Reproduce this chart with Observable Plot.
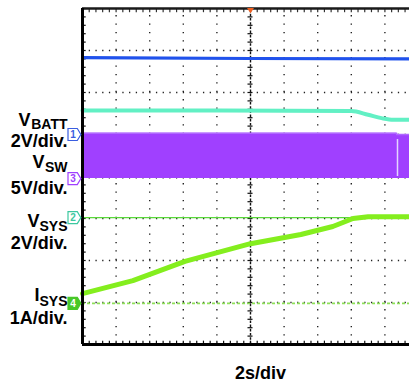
<!DOCTYPE html>
<html>
<head>
<meta charset="utf-8">
<script src="https://cdn.jsdelivr.net/npm/d3@7"></script>
<script src="https://cdn.jsdelivr.net/npm/@observablehq/plot@0.6"></script>
<style>
  html, body { margin: 0; padding: 0; background: #fff; overflow: hidden; }
  #chart svg { overflow: hidden; display: block; }
</style>
</head>
<body>
<div id="chart"></div>
<script>
// ---- Data (time in s, 2 s/div; levels in screen divisions, 0 = bottom, 8 = top) ----
const blueT = [0, 10, 20];
const blueV = [6.83, 6.81, 6.80];

const vbattT = [0, 8, 16.0, 17.0, 17.8, 18.5, 20];
const vbattV = [5.57, 5.57, 5.56, 5.47, 5.39, 5.35, 5.35];

const vswT  = [0, 18.7, 18.7, 20];
const vswLo = [3.95, 3.95, 3.95, 3.95];
const vswHi = [5.03, 5.03, 5.0, 5.0];
const vswGapT = [18.75];

const isysT = [0, 3.0, 6.1, 10.0, 13.0, 14.9, 16.1, 17.0, 20];
const isysV = [1.21, 1.52, 1.98, 2.40, 2.62, 2.81, 3.00, 3.04, 3.04];

const vsysRef = [3.02];
const isysRef = [0.98];

const markerIds    = ["1", "3", "2", "4"];
const markerLevels = [5.0, 3.95, 3.02, 0.98];
const labelMain  = ["V", "V", "V", "I"];
const labelSub   = ["BATT", "SW", "SYS", "SYS"];
const labelScale = ["2V/div.", "5V/div.", "2V/div.", "1A/div."];
const xLabel = "2s/div";
const triggerT = [10];

// ---- Layout / style ----
const markerColors = ["#3a5ee0", "#a040ff", "#3cc8a0", "#48c828"];
const markerFilled = [false, false, false, true];
const mainDx  = [-52, -38, -43, -43];
const mainDy  = [-9, -11, 9, -2];
const subDy   = [-6, -7, 13, 3];
const scaleDy = [12, 15, 31, 21];

const zip = (t, v) => t.map((d, i) => ({t: d, v: v[i]}));
const blue = zip(blueT, blueV);
const vbatt = zip(vbattT, vbattV);
const vsw = vswT.map((d, i) => ({t: d, lo: vswLo[i], hi: vswHi[i]}));
const isys = zip(isysT, isysV);
const markers = markerIds.map((id, i) => ({
  id, level: markerLevels[i], color: markerColors[i], filled: markerFilled[i],
  main: labelMain[i], sub: labelSub[i], scale: labelScale[i],
  mdx: mainDx[i], mdy: mainDy[i], sdy: subDy[i], cdy: scaleDy[i]
}));

const tag = {draw(ctx, size) {
  const r = Math.sqrt(size / Math.PI);
  ctx.moveTo(-r, -r); ctx.lineTo(r * 0.55, -r); ctx.lineTo(r * 1.15, 0);
  ctx.lineTo(r * 0.55, r); ctx.lineTo(-r, r); ctx.closePath();
}};
const downTri = {draw(ctx, size) {
  const r = Math.sqrt(size / Math.PI);
  ctx.moveTo(-r, -r * 0.7); ctx.lineTo(r, -r * 0.7); ctx.lineTo(0, r * 0.8); ctx.closePath();
}};

const majorX = d3.range(2, 20, 2).filter(d => d !== 10);
const majorY = d3.range(1, 8).filter(d => d !== 4);
const minorX = d3.range(0, 20.01, 0.4);
const minorY = d3.range(0, 8.001, 0.2);
const font = "'Liberation Sans', Arial, sans-serif";

const labelMarks = markers.flatMap(m => [
  Plot.text([m], {x: 0, y: "level", text: "main", textAnchor: "end", lineAnchor: "bottom",
    dx: m.mdx, dy: m.mdy, fontSize: 18, fontWeight: "bold", fill: "#000"}),
  Plot.text([m], {x: 0, y: "level", text: "sub", textAnchor: "end", lineAnchor: "bottom",
    dx: -15, dy: m.sdy, fontSize: 14, fontWeight: "bold", fill: "#000"}),
  Plot.text([m], {x: 0, y: "level", text: "scale", textAnchor: "end", lineAnchor: "bottom",
    dx: -15, dy: m.cdy, fontSize: 18, fontWeight: "bold", fill: "#000"})
]);

const chart = Plot.plot({
  width: 409, height: 382,
  marginLeft: 82, marginRight: -9, marginTop: 8, marginBottom: 38,
  x: {domain: [0, 20], axis: null},
  y: {domain: [0, 8], axis: null},
  style: {fontFamily: font, background: "#fff", overflow: "hidden"},
  marks: [
    // dotted graticule
    Plot.ruleY(majorY, {x1: 0, x2: 20.5, stroke: "#222", strokeWidth: 1.4, strokeDasharray: "1.3,5.42"}),
    Plot.ruleX(majorX, {y1: 0, y2: 8, stroke: "#222", strokeWidth: 1.4, strokeDasharray: "1.3,7.1"}),
    // center axes with ticks
    Plot.ruleX([10], {y1: 0, y2: 8, stroke: "#111", strokeWidth: 1.4, strokeDasharray: "2.6,1.6"}),
    Plot.ruleY([4], {x1: 0, x2: 20.5, stroke: "#111", strokeWidth: 1.4, strokeDasharray: "2.6,0.76"}),
    Plot.ruleY(minorY, {x1: 9.85, x2: 10.15, stroke: "#111", strokeWidth: 1.2}),
    Plot.ruleX(minorX, {y1: 3.94, y2: 4.06, stroke: "#111", strokeWidth: 1.2}),
    // border ticks
    Plot.ruleY(minorY, {x1: 0, x2: 0.22, stroke: "#111", strokeWidth: 1.2}),
    Plot.ruleX(minorX, {y1: 0, y2: 0.08, stroke: "#111", strokeWidth: 1.2}),
    Plot.ruleX(minorX, {y1: 8, y2: 7.9, stroke: "#333", strokeWidth: 1.2}),
    // VSYS reference and ISYS zero dashed line
    Plot.ruleY(vsysRef, {x1: 0, x2: 20.5, stroke: "#5ad83a", strokeWidth: 1.4}),
    Plot.ruleY(isysRef, {x1: 0, x2: 20.5, stroke: "#8ee05a", strokeWidth: 1.6, strokeDasharray: "3,2"}),
    // traces
    Plot.areaY(vsw, {x: "t", y1: "lo", y2: "hi", fill: "#a040ff", curve: "linear"}),
    Plot.line(vsw, {x: "t", y: "hi", stroke: "#b068ff", strokeWidth: 1.5}),
    Plot.ruleX(vswGapT, {y1: 4.0, y2: 4.88, stroke: "#e4d4ff", strokeWidth: 1.5}),
    Plot.line(blue, {x: "t", y: "v", stroke: "#2052ec", strokeWidth: 3.2}),
    Plot.line(vbatt, {x: "t", y: "v", stroke: "#62f0c4", strokeWidth: 4, curve: "monotone-x"}),
    Plot.line(isys, {x: "t", y: "v", stroke: "#84ee1e", strokeWidth: 5, curve: "linear"}),
    // frame
    Plot.ruleY([8], {x1: 0, x2: 20.5, stroke: "#1a1a1a", strokeWidth: 2.5}),
    Plot.ruleY([0], {x1: 0, x2: 20.5, stroke: "#000", strokeWidth: 3}),
    Plot.ruleX([0], {y1: 0, y2: 8, stroke: "#000", strokeWidth: 3}),
    // trigger marker
    Plot.dot(triggerT, {x: d => d, y: 8, symbol: downTri, r: 3.5, fill: "#f06020", stroke: "none", dy: 2}),
    // channel markers
    Plot.dot(markers, {x: 0, y: "level", symbol: tag, r: 6, dx: -8.5,
      fill: d => d.filled ? d.color : "#fff", stroke: "color", strokeWidth: 1.2}),
    Plot.text(markers, {x: 0, y: "level", text: "id", dx: -9.5, fill: d => d.filled ? "#fff" : d.color,
      fontSize: 10, fontWeight: "bold"}),
    // channel labels
    ...labelMarks,
    // time base label
    Plot.text([xLabel], {x: 10, y: 0, text: d => d, dx: 10, dy: 34, lineAnchor: "bottom",
      fontSize: 18, fontWeight: "bold", fill: "#000"})
  ]
});
document.getElementById("chart").appendChild(chart);
</script>
</body>
</html>
